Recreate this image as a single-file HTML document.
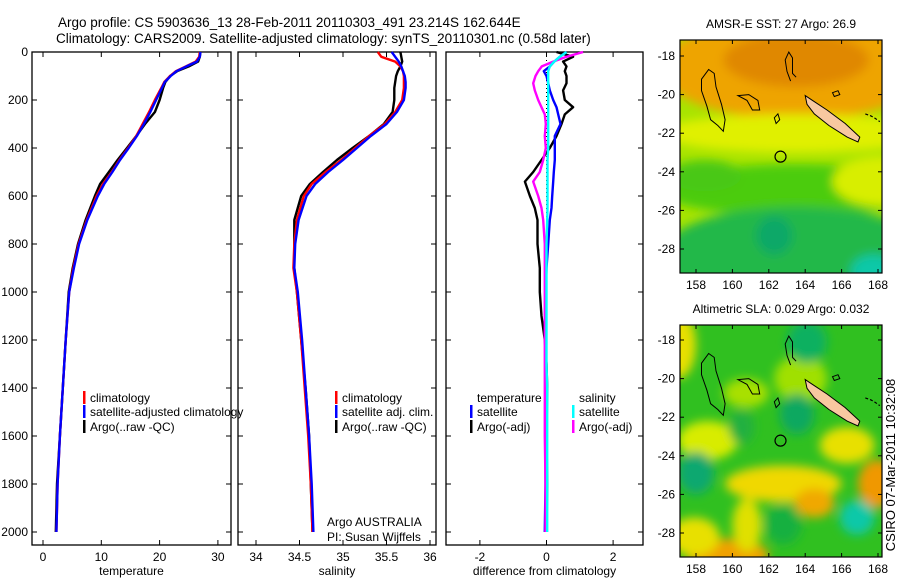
<!DOCTYPE html>
<html><head><meta charset="utf-8"><style>
body{margin:0;background:#fff;width:900px;height:580px;overflow:hidden;font-family:"Liberation Sans",sans-serif}
svg text{font-family:"Liberation Sans",sans-serif;fill:#000}
</style></head><body>
<svg id="c" width="900" height="580" xmlns="http://www.w3.org/2000/svg">
<defs>
<filter id="bl" x="-50%" y="-50%" width="200%" height="200%"><feGaussianBlur stdDeviation="5"/></filter>
<clipPath id="cm1"><rect x="680" y="40" width="202" height="233"/></clipPath>
<clipPath id="cm2"><rect x="680" y="325" width="202" height="232"/></clipPath>
</defs>
<text x="58" y="27" font-size="13.5">Argo profile: CS 5903636_13 28-Feb-2011 20110303_491 23.214S 162.644E</text>
<text x="56" y="43" font-size="13.5">Climatology: CARS2009. Satellite-adjusted climatology: synTS_20110301.nc (0.58d later)</text>
<g id="plots"></g>
<g id="maps"></g>
<text transform="translate(895,465) rotate(-90)" text-anchor="middle" font-size="13">CSIRO 07-Mar-2011 10:32:08</text>
</svg>
<script>
// ---- data ----
const depths = [0,20,40,60,80,100,125,150,200,250,300,350,400,450,500,550,600,700,800,900,1000,1200,1400,1600,1800,2000];
const tempClim = [26.9,26.8,26.2,24.5,22.8,21.8,20.8,20.3,19.2,18.2,17.1,16.0,14.6,13.1,11.8,10.3,9.2,7.5,6.1,5.2,4.5,3.9,3.4,2.9,2.5,2.3];
const tempSat = [27.0,26.9,26.4,24.6,22.9,21.9,20.9,20.4,19.4,18.4,17.3,16.1,14.7,13.2,11.9,10.5,9.4,7.6,6.2,5.3,4.5,3.9,3.4,2.9,2.5,2.3];
const tempArgo = [27.0,26.9,26.6,25.0,23.0,21.8,21.0,20.6,20.0,19.2,17.5,16.0,14.4,12.8,11.3,9.8,8.9,7.3,6.0,5.1,4.4,3.9,3.4,2.9,2.4,2.2];
const salClim = [35.40,35.44,35.60,35.66,35.69,35.70,35.70,35.70,35.68,35.60,35.48,35.30,35.14,34.98,34.80,34.64,34.55,34.47,34.44,34.43,34.47,34.52,34.56,34.60,34.63,34.65];
const salSat = [35.56,35.60,35.64,35.67,35.69,35.71,35.72,35.72,35.70,35.62,35.50,35.32,35.16,35.00,34.83,34.68,34.58,34.49,34.45,34.44,34.48,34.53,34.57,34.61,34.64,34.66];
const salArgo = [35.66,35.67,35.68,35.66,35.63,35.61,35.60,35.59,35.59,35.57,35.47,35.30,35.11,34.93,34.77,34.62,34.52,34.44,34.44,34.44,34.47,34.52,34.57,34.61,34.63,34.65];
const diffDepths = [0,20,40,60,80,100,130,160,200,230,260,300,350,400,450,500,540,600,650,700,800,900,1000,1100,1200,1300,1400,1600,1800,2000];
const diffTempArgo = [0.3,0.8,0.5,0.6,0.55,0.6,0.6,0.5,0.55,0.8,0.55,0.45,0.3,0.1,-0.15,-0.4,-0.65,-0.5,-0.35,-0.27,-0.27,-0.2,-0.2,-0.15,-0.05,0,0.02,0,0.02,0];
const diffTempSat = [0.6,0.4,0.23,0.1,-0.08,0,0.05,0.1,0.2,0.3,0.35,0.42,0.25,0.25,0.25,0.22,0.2,0.17,0.15,0.1,0.05,0,-0.02,-0.02,-0.02,-0.03,-0.03,-0.03,-0.03,-0.05];
const diffSalArgo = [1.1,0.6,0.2,-0.14,-0.25,-0.33,-0.4,-0.35,-0.25,-0.15,-0.05,-0.02,-0.05,-0.02,-0.1,-0.2,-0.4,-0.25,-0.15,-0.1,-0.05,-0.05,-0.05,-0.05,-0.05,-0.05,-0.05,-0.05,-0.03,-0.03];
const diffSalSat = [0.6,0.4,0.23,0.1,0.05,0.05,0.05,0.05,0.05,0.05,0.05,0.05,0.05,0.05,0.03,0.03,0.03,0.03,0.03,0.02,0,0,0,0,0,0,0.02,0.02,0.02,0.02];
const depthTicks = [0,200,400,600,800,1000,1200,1400,1600,1800,2000];
const tempTicks = [0,10,20,30];
const salTicks = [34,34.5,35,35.5,36];
const diffTicks = [-2,0,2];
const mapLatTicks = [18,20,22,24,26,28];
const mapLonTicks = [158,160,162,164,166,168];

const NS='http://www.w3.org/2000/svg';
function mk(tag,attrs,parent){const e=document.createElementNS(NS,tag);for(const k in attrs)e.setAttribute(k,attrs[k]);parent.appendChild(e);return e;}
const plots=document.getElementById('plots');
const yD=d=>52+d*0.24;
const panels=[
 {x0:32,x1:231,v0:0,px0:43,ppu:5.83,ticks:tempTicks,label:'temperature',name:'temperature-panel'},
 {x0:238,x1:436,v0:34,px0:256,ppu:87,ticks:salTicks,label:'salinity',name:'salinity-panel'},
 {x0:446,x1:643,v0:0,px0:546.5,ppu:33.3,ticks:diffTicks,label:'difference from climatology',name:'difference-panel'}
];
panels.forEach((p,i)=>{
  const g=mk('g',{},plots);
  
  
  const r=mk('rect',{x:p.x0,y:52,width:p.x1-p.x0,height:493,fill:'none',stroke:'#000','stroke-width':1.3},g);
  
  
  p.sx=v=>p.px0+(v-p.v0)*p.ppu;
  p.ticks.forEach(t=>{
    const x=p.sx(t);
    mk('line',{x1:x,x2:x,y1:545,y2:540,stroke:'#000'},g);
    mk('line',{x1:x,x2:x,y1:52,y2:57,stroke:'#000'},g);
    const tx=mk('text',{x:x,y:561,'text-anchor':'middle','font-size':12},g);
    tx.textContent=t;
    
    
  });
  depthTicks.forEach(d=>{
    const y=yD(d);
    mk('line',{x1:p.x0,x2:p.x0+5,y1:y,y2:y,stroke:'#000'},g);
    mk('line',{x1:p.x1,x2:p.x1-5,y1:y,y2:y,stroke:'#000'},g);
    if(i===0){const tx=mk('text',{x:28,y:y+4,'text-anchor':'end','font-size':12},g);tx.textContent=d;
      
      }
  });
  const xl=mk('text',{x:(p.x0+p.x1)/2,y:575,'text-anchor':'middle','font-size':12},g);
  xl.textContent=p.label;
  
  
});
function series(p,dep,vals,col,name){
  const pts=vals.map((v,k)=>p.sx(v).toFixed(1)+','+yD(dep[k]).toFixed(1)).join(' ');
  const l=mk('polyline',{points:pts,fill:'none',stroke:col,'stroke-width':2.4,'stroke-linejoin':'round'},plots);
  
  
}
const [P1,P2,P3]=panels;
series(P1,depths,tempArgo,'#000','temp-argo-line');
series(P1,depths,tempClim,'#f00','temp-climatology-line');
series(P1,depths,tempSat,'#00f','temp-satellite-line');
series(P2,depths,salArgo,'#000','sal-argo-line');
series(P2,depths,salClim,'#f00','sal-climatology-line');
series(P2,depths,salSat,'#00f','sal-satellite-line');
const zl=mk('line',{x1:P3.sx(0),x2:P3.sx(0),y1:yD(0),y2:yD(2000),stroke:'#000','stroke-dasharray':'1,3'},plots);


series(P3,diffDepths,diffTempArgo,'#000','diff-temp-argo-line');
series(P3,diffDepths,diffTempSat,'#00f','diff-temp-satellite-line');
series(P3,diffDepths,diffSalArgo,'#f0f','diff-sal-argo-line');
series(P3,diffDepths,diffSalSat,'#0ff','diff-sal-satellite-line');
function leg(x,y,col,txt,name){
  if(col){const b=mk('rect',{x:x,y:y-11,width:2.5,height:13,fill:col},plots);
    
    }
  const t=mk('text',{x:x+7,y:y,'font-size':12},plots);t.textContent=txt;
  
  
}
leg(83,402,'#f00','climatology','legend-climatology');
leg(83,416,'#00f','satellite-adjusted climatology','legend-satellite-adjusted');
leg(83,431,'#000','Argo(..raw -QC)','legend-argo');
leg(335,402,'#f00','climatology','legend-sal-climatology');
leg(335,416,'#00f','satellite adj. clim.','legend-sal-satellite');
leg(335,431,'#000','Argo(..raw -QC)','legend-sal-argo');
leg(470,402,null,'temperature','legend-temp-header');
leg(470,416,'#00f','satellite','legend-diff-temp-sat');
leg(470,431,'#000','Argo(-adj)','legend-diff-temp-argo');
leg(572,402,null,'salinity','legend-sal-header');
leg(572,416,'#0ff','satellite','legend-diff-sal-sat');
leg(572,431,'#f0f','Argo(-adj)','legend-diff-sal-argo');
leg(320,526,null,'Argo AUSTRALIA','argo-australia-note');
leg(320,541,null,'PI: Susan Wijffels','pi-note');
// ---- maps ----
const maps=document.getElementById('maps');
const mapDefs=[
 {y0:40,y1:273,lat18:56,title:'AMSR-E SST: 27 Argo: 26.9',clip:'cm1',name:'sst-map',base:'#a8e400',
  blobs:[[156,16,171,21.3,'#eea400'],[159.5,16.8,167.5,19.6,'#e08800'],[156,21.0,171,23.0,'#e0f000'],[156,23.6,171,26.3,'#4ccc10'],[156,25.8,171,31,'#22b84a'],[165.5,23.2,171,25.8,'#d8ee00'],[161.3,26.3,163.3,28.3,'#10a868'],[166.5,28.3,169,30,'#10c8a8'],[156.5,23.4,160.5,25,'#48c818']]},
 {y0:325,y1:557,lat18:340,title:'Altimetric SLA: 0.029 Argo: 0.032',clip:'cm2',name:'sla-map',base:'#30c020',
  blobs:[[159.6,24.5,166,26.4,'#f0d800'],[163.4,25.7,165.6,27.2,'#f0a800'],[166.9,24.2,169,26.7,'#f09800'],[157.5,28.3,162,30,'#f0a000'],[156,16.5,158,20,'#e8e000'],[157,22.2,160.3,24.2,'#d8ec00'],[164.8,22.5,167.8,24.4,'#e8e000'],[160,26.2,161.6,29,'#e0e000'],[156.5,27.2,159.3,29.2,'#e8e000'],[162.3,18.8,165.2,21.2,'#a0e000'],[159.5,20,162,21.5,'#a8e000'],
   [163,17,165.2,19.2,'#10b060'],[162.6,20.8,164.5,22.9,'#10a860'],[157,23.8,159,26,'#10a870'],[165.9,26.3,167.8,28.1,'#10c8a8'],[159.8,21.6,161.2,23.4,'#20b040'],[161.8,26.5,163.8,28.6,'#18b040']]}
];
const lonX=lon=>696+(lon-158)*18.2;
mapDefs.forEach(m=>{
  const g=mk('g',{},maps);
  
  
  const latY=lat=>m.lat18+(lat-18)*19.3;
  const t=mk('text',{x:781,y:m.y0-12,'text-anchor':'middle','font-size':12},g);t.textContent=m.title;
  
  
  const cg=mk('g',{'clip-path':'url(#'+m.clip+')'},g);
  mk('rect',{x:680,y:m.y0,width:202,height:m.y1-m.y0,fill:m.base},cg);
  const bg=mk('g',{filter:'url(#bl)'},cg);
  m.blobs.forEach(b=>{
    const x0=lonX(b[0]),x1=lonX(b[2]),y0=latY(b[1]),y1=latY(b[3]);
    mk('ellipse',{cx:(x0+x1)/2,cy:(y0+y1)/2,rx:(x1-x0)/2,ry:(y1-y0)/2,fill:b[4]},bg);
  });
  const P=(pts)=>pts.map(q=>lonX(q[0]).toFixed(1)+','+latY(q[1]).toFixed(1)).join(' ');
  const isl=mk('polygon',{points:P([[164,20.05],[164.4,20.3],[165.2,20.8],[166.2,21.5],[167.0,22.2],[166.9,22.45],[166.3,22.2],[165.3,21.6],[164.5,21.0],[164.1,20.5]]),fill:'#f8c8a0',stroke:'#000','stroke-width':1},cg);
  
  
  const reefs=[
   [[158.7,18.7],[159,18.9],[159.1,19.6],[159.4,20.5],[159.6,21.3],[159.5,21.9],[159.2,21.6],[158.8,21.3],[158.6,20.6],[158.3,19.8],[158.3,19.2]],
   [[160.3,20.05],[160.9,20.0],[161.4,20.3],[161.5,20.8],[161.1,20.8],[160.8,20.3]],
   [[162.3,21.2],[162.5,21.0],[162.6,21.3],[162.4,21.5]],
   [[165.5,19.9],[165.8,19.8],[165.9,20.0],[165.6,20.1]]];
  reefs.forEach(r=>{const e=mk('polygon',{points:P(r),fill:'none',stroke:'#000','stroke-width':1},cg);
    
    });
  const rl=mk('polyline',{points:P([[163.2,19.3],[163.0,18.8],[162.9,18.2],[163.1,17.8],[163.3,18.1],[163.3,18.9],[163.5,19.1]]),fill:'none',stroke:'#000','stroke-width':1},cg);
  
  
  const lf=mk('polyline',{points:P([[167.3,21.0],[167.6,21.1],[167.8,21.2],[168.1,21.4]]),fill:'none',stroke:'#000','stroke-width':1.2,'stroke-dasharray':'3,2'},cg);
  
  
  const c=mk('circle',{cx:lonX(162.644),cy:latY(23.214),r:5.5,fill:'none',stroke:'#000','stroke-width':1.2},cg);
  
  
  const fr=mk('rect',{x:680,y:m.y0,width:202,height:m.y1-m.y0,fill:'none',stroke:'#000','stroke-width':1.2},g);
  
  
  mapLatTicks.forEach(l=>{const y=latY(l);
    mk('line',{x1:680,x2:684,y1:y,y2:y,stroke:'#000'},g);
    mk('line',{x1:882,x2:878,y1:y,y2:y,stroke:'#000'},g);
    const tx=mk('text',{x:675,y:y+4,'text-anchor':'end','font-size':12},g);tx.textContent='-'+l;
    
    });
  mapLonTicks.forEach(l=>{const x=lonX(l);
    mk('line',{x1:x,x2:x,y1:m.y1,y2:m.y1-4,stroke:'#000'},g);
    mk('line',{x1:x,x2:x,y1:m.y0,y2:m.y0+4,stroke:'#000'},g);
    const tx=mk('text',{x:x,y:m.y1+16,'text-anchor':'middle','font-size':12},g);tx.textContent=l;
    
    });
});
</script>
</body></html>
